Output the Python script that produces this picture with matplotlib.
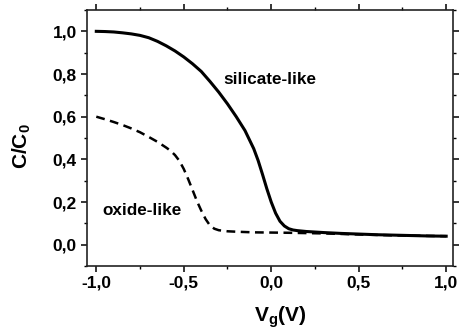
import matplotlib
matplotlib.use("Agg")
import matplotlib.pyplot as plt
from matplotlib.ticker import MultipleLocator, FuncFormatter

plt.rcParams['font.family'] = ['Liberation Sans', 'DejaVu Sans']
plt.rcParams['font.weight'] = 'bold'
plt.rcParams['mathtext.fontset'] = 'custom'
plt.rcParams['mathtext.rm'] = 'Liberation Sans:bold'
plt.rcParams['mathtext.bf'] = 'Liberation Sans:bold'
plt.rcParams['mathtext.default'] = 'bf'

# silicate-like curve (solid)
vg_silicate = [-1.0, -0.95, -0.9, -0.85, -0.8, -0.75, -0.7, -0.65, -0.6, -0.55, -0.5,
               -0.45, -0.4, -0.35, -0.3, -0.25, -0.2, -0.15, -0.1, -0.075, -0.05,
               -0.025, 0.0, 0.025, 0.05, 0.075, 0.1, 0.125, 0.15, 0.2, 0.3, 0.4,
               0.5, 0.6, 0.7, 0.8, 0.9, 1.0]
c_silicate = [1.0, 0.999, 0.997, 0.993, 0.988, 0.981, 0.97, 0.953, 0.932, 0.908, 0.88,
              0.848, 0.812, 0.765, 0.715, 0.66, 0.6, 0.535, 0.45, 0.395, 0.33,
              0.262, 0.2, 0.148, 0.11, 0.088, 0.075, 0.069, 0.066, 0.062, 0.057, 0.053,
              0.05, 0.047, 0.045, 0.043, 0.041, 0.04]

# oxide-like curve (dashed)
vg_oxide = [-1.0, -0.95, -0.9, -0.85, -0.8, -0.75, -0.7, -0.65, -0.6, -0.575, -0.55,
            -0.525, -0.5, -0.475, -0.45, -0.425, -0.4, -0.375, -0.35, -0.325, -0.3,
            -0.25, -0.2, -0.1, 0.0, 0.1, 0.3, 0.5, 0.7, 1.0]
c_oxide = [0.60, 0.588, 0.575, 0.561, 0.545, 0.527, 0.505, 0.482, 0.455, 0.44, 0.42,
           0.393, 0.355, 0.308, 0.257, 0.205, 0.16, 0.12, 0.09, 0.075, 0.068,
           0.063, 0.061, 0.058, 0.057, 0.056, 0.053, 0.048, 0.044, 0.04]

fig = plt.figure(figsize=(4.61, 3.33), dpi=100)
ax = fig.add_axes([0.188, 0.201, 0.795, 0.769])

ax.plot(vg_oxide, c_oxide, color='black', lw=1.8, dashes=(3.5, 2.2))
ax.plot(vg_silicate, c_silicate, color='black', lw=2.2)

ax.set_xlim(-1.055, 1.04)
ax.set_ylim(-0.1, 1.1)

ax.xaxis.set_major_locator(MultipleLocator(0.5))
ax.xaxis.set_minor_locator(MultipleLocator(0.25))
ax.yaxis.set_major_locator(MultipleLocator(0.2))
ax.yaxis.set_minor_locator(MultipleLocator(0.1))
comma = FuncFormatter(lambda v, p: ("%.1f" % v).replace('.', ','))
ax.xaxis.set_major_formatter(comma)
ax.yaxis.set_major_formatter(comma)

ax.tick_params(which='major', direction='out', length=4, width=1.1, labelsize=12.5, pad=3)
ax.tick_params(which='minor', direction='out', length=2.5, width=1.0)
ax.tick_params(which='both', top=True, right=True)
for s in ax.spines.values():
    s.set_linewidth(1.2)
    s.set_color('#222222')

ax.text(-0.966, 0.14, 'oxide-like', fontsize=12.3, fontweight='bold', ha='left', va='baseline')
ax.text(-0.272, 0.755, 'silicate-like', fontsize=12.3, fontweight='bold', ha='left', va='baseline')

ax.set_xlabel(r'V$_\mathbf{g}$(V)', fontsize=15, fontweight='bold')
ax.set_ylabel(r'C/C$_\mathbf{0}$', fontsize=15, fontweight='bold')
ax.xaxis.set_label_coords(0.527, -0.15)
ax.yaxis.set_label_coords(-0.146, 0.47)

fig.savefig('out.png', dpi=100)
